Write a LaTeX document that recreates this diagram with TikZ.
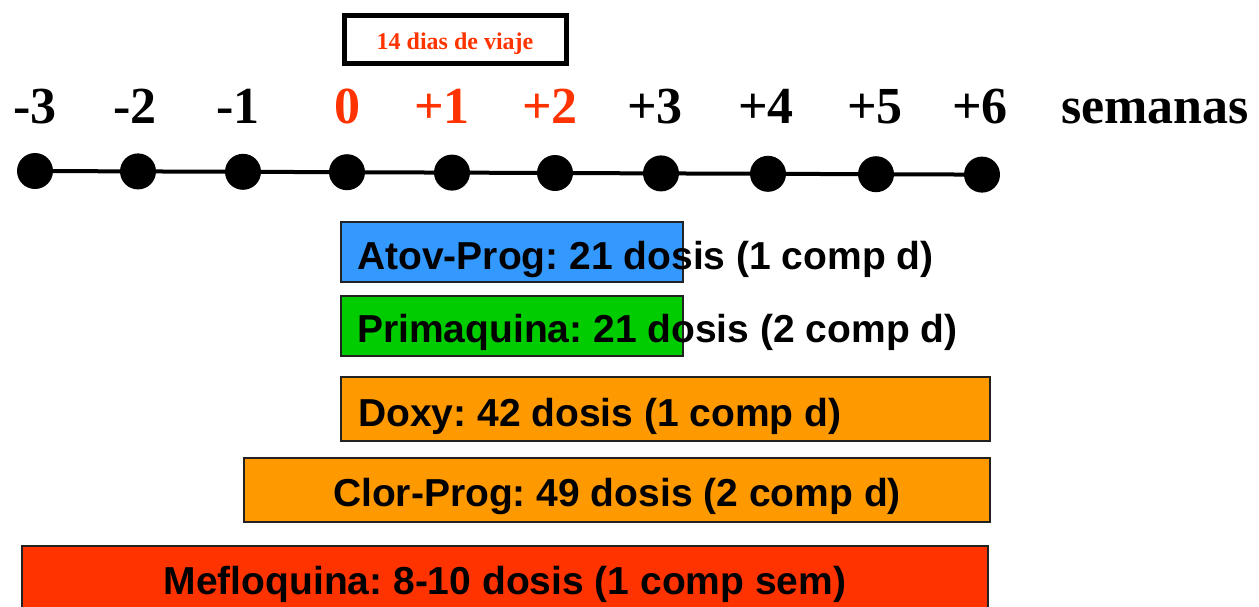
\documentclass[tikz,border=0pt]{standalone}
\usepackage{fontspec}
\setmainfont{Liberation Serif}
\setsansfont{Liberation Sans}
\definecolor{atovc}{HTML}{3399FF}
\definecolor{primc}{HTML}{00CC00}
\definecolor{orangec}{HTML}{FF9900}
\definecolor{meflc}{HTML}{FF3300}
\definecolor{redtxt}{HTML}{FF3300}
\definecolor{barline}{HTML}{222222}
\frenchspacing
\begin{document}
\begin{tikzpicture}[x=1pt,y=-1pt,
  bar/.style={draw=barline, line width=2pt, rectangle, inner sep=0pt, outer sep=0pt, anchor=north west},
  lbl/.style={font=\sffamily\bfseries\fontsize{39}{44}\selectfont, inner sep=0pt, text=black},
  wk/.style={font=\bfseries\fontsize{52}{56}\selectfont, inner sep=0pt, anchor=base},
  dot/.style={circle, fill=black, minimum size=36pt, inner sep=0pt}]
\useasboundingbox (0,0) rectangle (1259,606);
% top box
\node[draw=black, line width=5pt, minimum width=222pt, minimum height=48pt, inner sep=0pt] (viaje) at (455.5,39.5) {};
\node[font=\bfseries\fontsize{24}{28}\selectfont, text=redtxt, inner sep=0pt, anchor=base] (viajetxt) at (455,49) {14 dias de viaje};
% week labels
\node[wk] (wm3) at (35,123) {-3};
\node[wk] (wm2) at (135,123) {-2};
\node[wk] (wm1) at (238,123) {-1};
\node[wk, text=redtxt] (w0) at (347,123) {0};
\node[wk, text=redtxt] (wp1) at (442,123) {+1};
\node[wk, text=redtxt] (wp2) at (550,123) {+2};
\node[wk] (wp3) at (655,123) {+3};
\node[wk] (wp4) at (766,123) {+4};
\node[wk] (wp5) at (875,123) {+5};
\node[wk] (wp6) at (980,123) {+6};
\node[wk] (sem) at (1155,123) {semanas};
% timeline
\node[dot] (d0) at (35,171) {};
\node[dot] (d1) at (138,171.4) {};
\node[dot] (d2) at (243,171.8) {};
\node[dot] (d3) at (347,172.2) {};
\node[dot] (d4) at (452,172.6) {};
\node[dot] (d5) at (555,173) {};
\node[dot] (d6) at (661,173.4) {};
\node[dot] (d7) at (768,173.8) {};
\node[dot] (d8) at (876,174.2) {};
\node[dot] (d9) at (982,174.6) {};
\draw[line width=4pt] (d0.center) -- (d1.center) -- (d2.center) -- (d3.center) -- (d4.center)
  -- (d5.center) -- (d6.center) -- (d7.center) -- (d8.center) -- (d9.center);
% bars
\node[bar, fill=atovc, minimum width=342pt, minimum height=60pt] (atovbar) at (341,222) {};
\node[lbl, anchor=base west] (atovtxt) at (357,269) {Atov-Prog: 21 dosis (1 comp d)};
\node[bar, fill=primc, minimum width=342pt, minimum height=60pt] (primbar) at (341,296) {};
\node[lbl, anchor=base west] (primtxt) at (357,342) {Primaquina: 21 dosis (2 comp d)};
\node[bar, fill=orangec, minimum width=649pt, minimum height=64pt] (doxybar) at (341,377) {};
\node[lbl, anchor=base west] (doxytxt) at (358,426) {Doxy: 42 dosis (1 comp d)};
\node[bar, fill=orangec, minimum width=746pt, minimum height=64pt] (clorbar) at (244,458) {};
\node[lbl, anchor=base] (clortxt) at (617,506) {Clor-Prog: 49 dosis (2 comp d)};
\node[bar, fill=meflc, minimum width=966pt, minimum height=70pt] (meflbar) at (22,546) {};
\node[lbl, anchor=base] (mefltxt) at (505,594) {Mefloquina: 8-10 dosis (1 comp sem)};
\end{tikzpicture}
\end{document}
